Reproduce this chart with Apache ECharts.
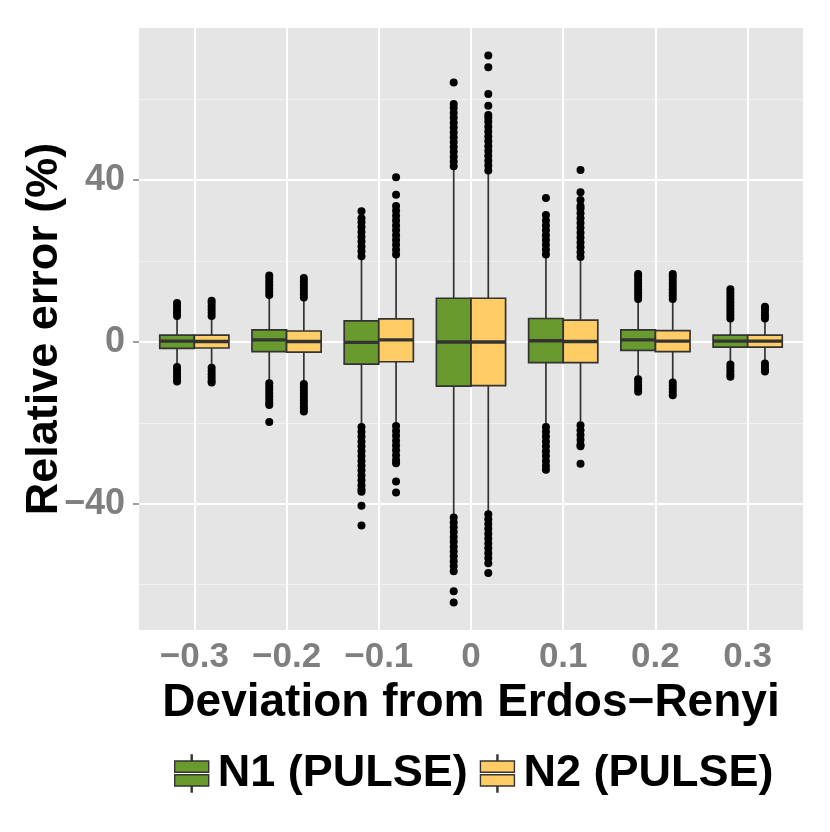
<!DOCTYPE html>
<html>
<head>
<meta charset="utf-8">
<title>Relative error boxplot</title>
<script src="https://cdn.jsdelivr.net/npm/echarts@6/dist/echarts.min.js"></script>
<style>
  html, body { margin: 0; padding: 0; background: #ffffff; }
  #chart { width: 830px; height: 832px; }
</style>
</head>
<body>
<div id="chart"></div>
<script>
// categories on the x axis
const xLabels = ['−0.3', '−0.2', '−0.1', '0', '0.1', '0.2', '0.3']
const yTicks = [-40, 0, 40]
const yMinorTicks = [-60, -20, 20, 60]
const seriesNames = ['N1 (PULSE)', 'N2 (PULSE)']

// [low whisker, Q1, median, Q3, high whisker] per category
const boxN1 = [
  [-5.7, -1.6, 0.2, 1.7, 5.9],
  [-9.6, -2.4, 0.5, 3.0, 11.0],
  [-20.6, -5.5, -0.1, 5.2, 20.7],
  [-42.8, -10.9, 0.0, 10.8, 42.8],
  [-20.4, -5.1, 0.3, 5.8, 20.8],
  [-8.6, -2.1, 0.5, 3.0, 10.0],
  [-5.0, -1.3, 0.2, 1.7, 5.2]
]
const boxN2 = [
  [-5.9, -1.5, 0.1, 1.7, 5.9],
  [-9.8, -2.5, 0.1, 2.7, 10.4],
  [-20.2, -4.9, 0.5, 5.7, 21.0],
  [-42.0, -10.8, 0.0, 10.8, 41.8],
  [-19.8, -5.1, 0.1, 5.4, 20.4],
  [-9.4, -2.4, 0.2, 2.8, 10.0],
  [-4.7, -1.3, 0.2, 1.7, 5.2]
]

// outliers per category
const outN1 = [
  [6.4, 7.2, 8.0, 8.8, 9.6, -6.2, -7.0, -7.8, -8.6, -9.4, -9.8],
  [11.6, 12.4, 13.2, 14.0, 14.8, 15.6, 16.4, -10.2, -11.0, -11.8, -12.6, -13.4, -14.2, -15.0, -15.6, -19.8],
  [21.2, 22.4, 23.6, 24.8, 26.0, 27.2, 28.4, 29.6, 30.6, 32.3,
    -21.0, -22.2, -23.4, -24.6, -25.8, -27.0, -28.2, -29.4, -30.6, -31.8, -33.0, -34.2, -35.4, -36.4, -37.0, -40.5, -45.4],
  [43.4, 44.6, 45.8, 47.0, 48.2, 49.4, 50.6, 51.8, 53.0, 54.2, 55.4, 56.6, 57.8, 58.8, 64.1,
    -43.4, -44.6, -45.8, -47.0, -48.2, -49.4, -50.6, -51.8, -53.0, -54.2, -55.4, -56.7, -61.6, -64.4],
  [21.6, 22.8, 24.0, 25.2, 26.4, 27.6, 28.8, 30.0, 31.4, 35.6,
    -21.0, -22.2, -23.4, -24.6, -25.8, -27.0, -28.2, -29.4, -30.6, -31.6],
  [10.6, 11.4, 12.2, 13.0, 13.8, 14.6, 15.4, 16.2, 16.8, -9.2, -10.0, -10.8, -11.6, -12.3],
  [5.8, 6.6, 7.4, 8.2, 9.0, 9.8, 10.6, 11.4, 12.2, 13.0, -5.6, -6.4, -7.2, -8.0, -8.6]
]
const outN2 = [
  [6.4, 7.2, 8.0, 8.8, 9.6, 10.2, -6.4, -7.2, -8.0, -8.8, -9.6, -10.0],
  [11.0, 11.8, 12.6, 13.4, 14.2, 15.0, 15.8, -10.4, -11.2, -12.0, -12.8, -13.6, -14.4, -15.2, -16.0, -16.6, -17.2],
  [21.6, 22.8, 24.0, 25.2, 26.4, 27.6, 28.8, 30.0, 31.2, 32.4, 33.6, 36.4, 40.7,
    -20.8, -22.0, -23.2, -24.4, -25.6, -26.8, -28.0, -29.2, -30.0, -34.5, -37.2],
  [42.4, 43.6, 44.8, 46.0, 47.2, 48.4, 49.6, 50.8, 52.0, 53.2, 54.4, 55.4, 56.1, 58.4, 61.3, 67.9, 70.8,
    -42.6, -43.8, -45.0, -46.2, -47.4, -48.6, -49.8, -51.0, -52.2, -53.4, -54.7, -57.1],
  [21.0, 22.2, 23.4, 24.6, 25.8, 27.0, 28.2, 29.4, 30.6, 31.8, 33.0, 33.6, 35.1, 37.0, 42.5,
    -20.6, -21.8, -23.0, -24.2, -25.4, -25.8, -30.1],
  [10.6, 11.4, 12.2, 13.0, 13.8, 14.6, 15.4, 16.2, 16.8, -10.0, -10.8, -11.6, -12.4, -13.2],
  [5.8, 6.6, 7.4, 8.2, 8.7, -5.3, -6.1, -6.9, -7.3]
]

const colors = ['#699a2d', '#ffcc66']
const FONT = 'Liberation Sans, Arial, sans-serif'
const BOX_WIDTH = 0.375 // in category units, two boxes dodged side by side
const DODGE = [-0.1875, 0.1875]

// turn "-40" into a real minus sign like R does
function minus(v) {
  return v < 0 ? '−' + Math.abs(v) : String(v)
}

function boxData(boxes, k) {
  return boxes.map((b, i) => [i + 1 + DODGE[k]].concat(b))
}

function outlierData(outs, k) {
  const res = []
  outs.forEach((list, i) => {
    list.forEach(v => res.push([i + 1 + DODGE[k], v]))
  })
  return res
}

function renderBox(params, api) {
  const x = api.value(0)
  const low = api.coord([x, api.value(1)])
  const q1 = api.coord([x, api.value(2)])
  const med = api.coord([x, api.value(3)])
  const q3 = api.coord([x, api.value(4)])
  const high = api.coord([x, api.value(5)])
  const halfW = api.size([BOX_WIDTH, 0])[0] / 2
  const lineStyle = { stroke: '#333333', lineWidth: 1.7 }
  return {
    type: 'group',
    children: [
      { type: 'line', shape: { x1: high[0], y1: high[1], x2: q3[0], y2: q3[1] }, style: lineStyle },
      { type: 'line', shape: { x1: q1[0], y1: q1[1], x2: low[0], y2: low[1] }, style: lineStyle },
      {
        type: 'rect',
        shape: { x: q3[0] - halfW, y: q3[1], width: halfW * 2, height: q1[1] - q3[1] },
        style: { fill: api.visual('color'), stroke: '#333333', lineWidth: 1.7 }
      },
      {
        type: 'line',
        shape: { x1: med[0] - halfW, y1: med[1], x2: med[0] + halfW, y2: med[1] },
        style: { stroke: '#333333', lineWidth: 3.4 }
      }
    ]
  }
}

// small boxplot glyph for the legend keys
const keyIcon = 'path://M16.5,0 H17.5 V6 H16.5 Z M0,6 H34 V17.2 H0 Z M0,19.8 H34 V31 H0 Z M16.5,31 H17.5 V37 H16.5 Z'

const chart = echarts.init(document.getElementById('chart'), null, { renderer: 'canvas' })

const series = []
seriesNames.forEach((name, k) => {
  series.push({
    name: name,
    type: 'custom',
    renderItem: renderBox,
    xAxisIndex: 0,
    yAxisIndex: 0,
    itemStyle: { color: colors[k] },
    encode: { x: 0, y: [1, 2, 3, 4, 5] },
    data: boxData(k === 0 ? boxN1 : boxN2, k),
    z: 2
  })
})
seriesNames.forEach((name, k) => {
  series.push({
    name: name + ' outliers',
    type: 'scatter',
    xAxisIndex: 0,
    yAxisIndex: 0,
    symbol: 'circle',
    symbolSize: 8,
    itemStyle: { color: '#000000', opacity: 1 },
    data: outlierData(k === 0 ? outN1 : outN2, k),
    silent: true,
    z: 3
  })
})

chart.setOption({
  backgroundColor: '#ffffff',
  animation: false,
  grid: {
    left: 139,
    top: 28,
    right: 27,
    bottom: 202,
    show: true,
    backgroundColor: '#e5e5e5',
    borderWidth: 0
  },
  legend: {
    data: seriesNames.map((name, k) => ({ name: name, icon: keyIcon, itemStyle: { color: colors[k] } })),
    left: 169,
    top: 746,
    itemWidth: 34,
    itemHeight: 37,
    itemGap: 12,
    itemStyle: { borderColor: '#333333', borderWidth: 1.4 },
    textStyle: {
      fontFamily: FONT,
      fontWeight: 'bold',
      fontSize: 45,
      color: '#000000',
      padding: [0, 0, 0, 4]
    },
    selectedMode: false
  },
  xAxis: {
    type: 'value',
    min: 0.4,
    max: 7.6,
    name: 'Deviation from Erdos−Renyi',
    nameLocation: 'middle',
    nameGap: 47,
    nameTextStyle: { fontFamily: FONT, fontWeight: 'bold', fontSize: 46, color: '#000000' },
    axisLine: { show: false },
    axisTick: { show: true, length: 6, customValues: [1, 2, 3, 4, 5, 6, 7], lineStyle: { color: '#7f7f7f', width: 1.5 } },
    axisLabel: {
      customValues: [1, 2, 3, 4, 5, 6, 7],
      formatter: v => xLabels[Math.round(v) - 1],
      fontFamily: FONT,
      fontWeight: 'bold',
      fontSize: 35,
      color: '#7f7f7f',
      margin: 10
    },
    splitLine: { show: true, lineStyle: { color: '#ffffff', width: 2 } }
  },
  yAxis: [
    {
      type: 'value',
      min: -71.2,
      max: 77.6,
      name: 'Relative error (%)',
      nameLocation: 'middle',
      nameRotate: 90,
      nameGap: 72,
      nameMoveOverlap: false,
      nameTextStyle: { fontFamily: FONT, fontWeight: 'bold', fontSize: 45, color: '#000000' },
      axisLine: { show: false },
      axisTick: { show: true, length: 6, customValues: yTicks, lineStyle: { color: '#7f7f7f', width: 1.5 } },
      axisLabel: {
        customValues: yTicks,
        formatter: v => minus(v),
        fontFamily: FONT,
        fontWeight: 'bold',
        fontSize: 36,
        color: '#7f7f7f',
        margin: 14
      },
      splitLine: { show: true, lineStyle: { color: '#ffffff', width: 2 } },
      z: 1
    },
    {
      // only here for the thin minor grid lines
      type: 'value',
      min: -71.2,
      max: 77.6,
      position: 'left',
      axisLine: { show: false },
      axisTick: { show: false, customValues: yMinorTicks },
      axisLabel: { show: false, customValues: yMinorTicks },
      splitLine: { show: true, lineStyle: { color: '#f2f2f2', width: 1 } },
      z: 0
    }
  ],
  series: series
})
</script>
</body>
</html>
